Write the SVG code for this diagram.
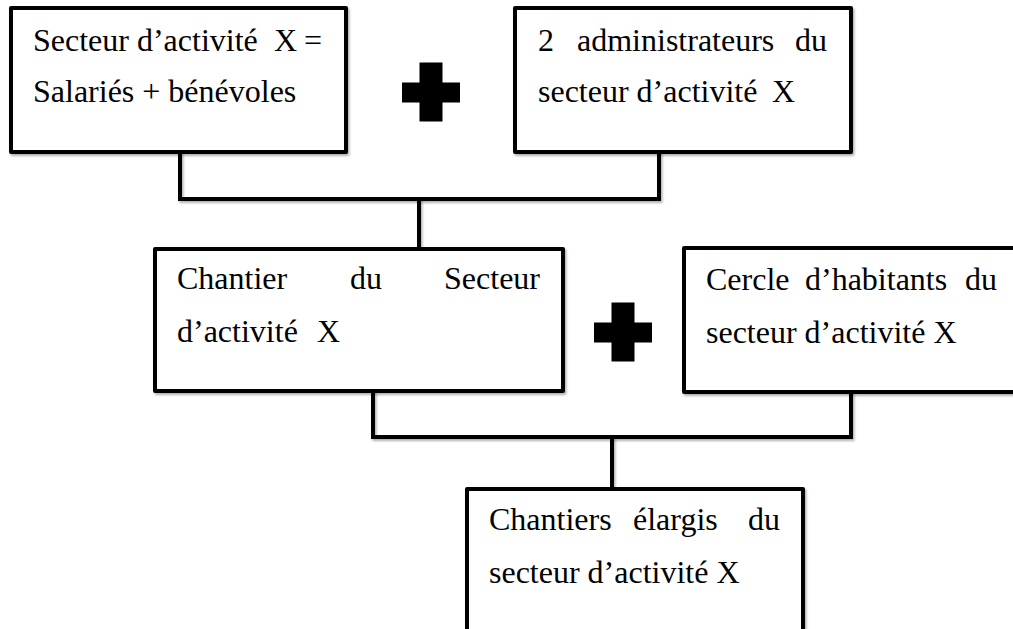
<svg xmlns="http://www.w3.org/2000/svg" xmlns:xlink="http://www.w3.org/1999/xlink" width="1013" height="629" viewBox="0 0 1013 629">
  <style>
    .box { fill: #ffffff; stroke: #000000; stroke-width: 4; stroke-linejoin: round; filter: url(#sh); }
    .conn { fill: none; stroke: #000000; stroke-width: 4; stroke-linejoin: miter; filter: url(#sh); }
    .t { font-family: "Liberation Serif", "Times New Roman", serif; font-size: 32px; fill: #000000; }
    .end { text-anchor: end; }
  </style>
  <defs>
    <filter id="sh" filterUnits="userSpaceOnUse" x="0" y="0" width="1013" height="629">
      <feDropShadow dx="1.5" dy="2" stdDeviation="1.2" flood-color="#000000" flood-opacity="0.3"/>
    </filter>
    <path id="plus" d="M-11.5,-29.5 H11.5 V-9.5 H29 V10.5 H11.5 V29.5 H-11.5 V10.5 H-29 V-9.5 H-11.5 Z" fill="#000000"/>
  </defs>

  <g id="connectors">
    <path class="conn" d="M180,152 V199 H659 V152"/>
    <path class="conn" d="M419,199 V249"/>
    <path class="conn" d="M373,391 V437 H851 V392"/>
    <path class="conn" d="M612,437 V489"/>
  </g>

  <g id="node-secteur">
    <rect class="box" x="11" y="8" width="335" height="144"/>
    <text class="t" x="33" y="51">Secteur d’activité</text>
    <text class="t" x="274" y="51">X</text>
    <text class="t end" x="322" y="51">=</text>
    <text class="t" x="33" y="102">Salariés + bénévoles</text>
  </g>

  <g id="plus-1">
    <use xlink:href="#plus" href="#plus" x="431" y="92"/>
  </g>

  <g id="node-administrateurs">
    <rect class="box" x="515" y="8" width="336" height="144"/>
    <text class="t" x="538" y="51">2</text>
    <text class="t" x="577" y="51">administrateurs</text>
    <text class="t end" x="827" y="51">du</text>
    <text class="t" x="538" y="102">secteur d’activité</text>
    <text class="t end" x="795" y="102">X</text>
  </g>

  <g id="node-chantier">
    <rect class="box" x="155" y="249" width="408" height="142"/>
    <text class="t" x="177" y="289">Chantier</text>
    <text class="t" x="350" y="289">du</text>
    <text class="t end" x="540" y="289">Secteur</text>
    <text class="t" x="177" y="342">d’activité</text>
    <text class="t" x="317" y="342">X</text>
  </g>

  <g id="plus-2">
    <use xlink:href="#plus" href="#plus" x="623" y="332"/>
  </g>

  <g id="node-cercle">
    <rect class="box" x="684" y="248" width="400" height="144"/>
    <text class="t" x="706" y="290">Cercle</text>
    <text class="t" x="805" y="290">d’habitants</text>
    <text class="t end" x="997" y="290">du</text>
    <text class="t" x="706" y="343">secteur d’activité X</text>
  </g>

  <g id="node-chantiers-elargis">
    <rect class="box" x="467" y="489" width="336" height="200"/>
    <text class="t" x="489" y="530">Chantiers</text>
    <text class="t" x="633" y="530">élargis</text>
    <text class="t end" x="780" y="530">du</text>
    <text class="t" x="489" y="583">secteur d’activité X</text>
  </g>
</svg>
